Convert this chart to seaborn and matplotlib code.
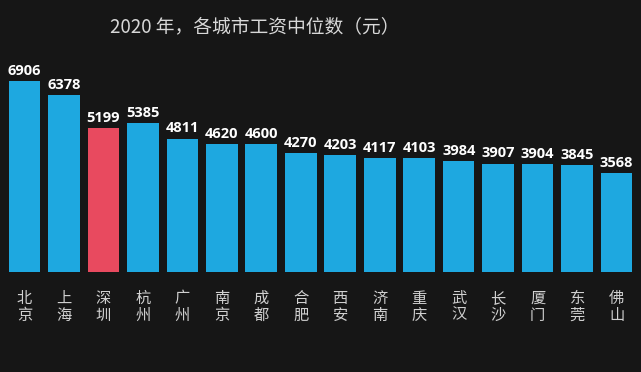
import matplotlib
matplotlib.use("Agg")
import matplotlib.pyplot as plt
import seaborn as sns
import pandas as pd

cities = ["北京", "上海", "深圳", "杭州", "广州", "南京", "成都", "合肥", "西安",
          "济南", "重庆", "武汉", "长沙", "厦门", "东莞", "佛山"]
wages = [6906, 6378, 5199, 5385, 4811, 4620, 4600, 4270, 4203,
         4117, 4103, 3984, 3907, 3904, 3845, 3568]
highlight = "深圳"
title = "2020 年，各城市工资中位数（元）"

BG = "#161616"
BLUE = "#1ea8e0"
RED = "#e84a5f"

sns.set_theme(style="dark")
plt.rcParams['font.family'] = ['Noto Sans CJK SC', 'DejaVu Sans']

df = pd.DataFrame({"city": cities, "wage": wages})
palette = {c: (RED if c == highlight else BLUE) for c in cities}

fig = plt.figure(figsize=(6.41, 3.72), dpi=100, facecolor=BG)
ax = fig.add_axes([0.006, 0.27, 0.988, 0.58])
ax.set_facecolor(BG)
sns.barplot(data=df, x="city", y="wage", hue="city", palette=palette,
            width=0.8, legend=False, ax=ax, saturation=1, linewidth=0)
ax.set_xlim(-0.52, 15.52)
ax.set_ylim(0, 6906 / 0.885)
for p, v in zip(ax.patches, wages):
    ax.text(p.get_x() + p.get_width() / 2, v + 110, str(v), ha="center", va="bottom",
            color="white", fontsize=10.5, fontweight="bold", family=["Open Sans", "DejaVu Sans"])
ax.set_xticks(range(len(cities)))
ax.set_xticklabels(["\n".join(c) for c in cities], color="#d0d0d0", fontsize=11,
                   linespacing=1.0)
ax.tick_params(axis="x", length=0, pad=13)
ax.set_yticks([])
ax.set_xlabel("")
ax.set_ylabel("")
for s in ax.spines.values():
    s.set_visible(False)
ax.grid(False)
fig.text(0.397, 0.925, title, ha="center", va="center", color="#d8d8d8", fontsize=13.5)
fig.savefig("out.png", dpi=100, facecolor=BG)
